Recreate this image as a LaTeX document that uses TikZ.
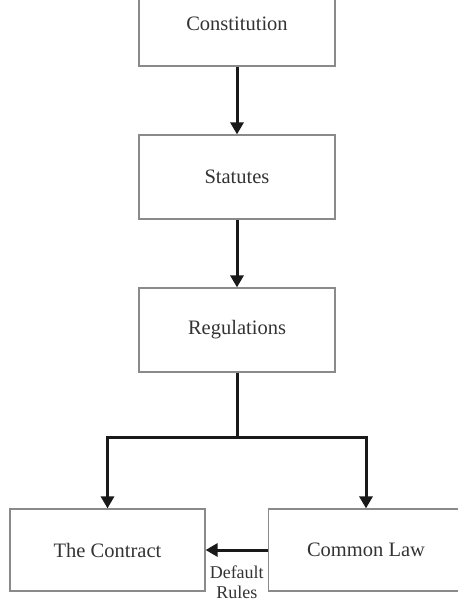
\documentclass[tikz,border=0pt]{standalone}
\usepackage{fontspec}
\setmainfont{Liberation Serif}
\usepackage{tikz}
\usetikzlibrary{%
arrows.meta,%
positioning,%
calc}

\definecolor{boxline}{HTML}{8A8A8A}
\definecolor{boxtext}{HTML}{333333}

\begin{document}
\begin{tikzpicture}[x=1pt,y=-1pt,
    level/.style={draw=boxline,line width=1.2pt,rectangle,minimum width=196pt,
      minimum height=84pt,inner sep=0pt,text=boxtext,
      font=\fontsize{20.5}{24}\selectfont},
    flow/.style={line width=3pt,black!90,line join=miter,
      -{Triangle[length=12pt,width=13pt]}}]
\useasboundingbox (0,0) rectangle (458,600);
\clip (0,0) rectangle (458,600);
% the chain of sources
\node[level] (const) at (237,24) {Constitution};
\node[level] (stat) at (237,177) {Statutes};
\node[level] (reg) at (237,330) {Regulations};
\node[level,minimum width=195pt,minimum height=82pt] (contract) at (107.5,550) {The Contract};
\node[level,minimum width=195pt,minimum height=82pt] (law) at (366,550) {Common Law};
\draw[flow] (const) -- (stat);
\draw[flow] (stat) -- (reg);
% split below the regulations
\draw[line width=3pt,black!90] (reg.south) -- ++(0,65) coordinate (split);
\draw[flow] (split) -| (contract.north);
\draw[flow] (split) -| (law.north);
\draw[flow] (law) -- (contract)
  node[midway,below=14pt,align=center,text=boxtext,inner sep=0pt,
    font=\fontsize{18}{20}\selectfont] (rules) {Default\\Rules};
%\draw[help lines] (0,0) grid[step=50] (458,600);
\end{tikzpicture}
\end{document}
